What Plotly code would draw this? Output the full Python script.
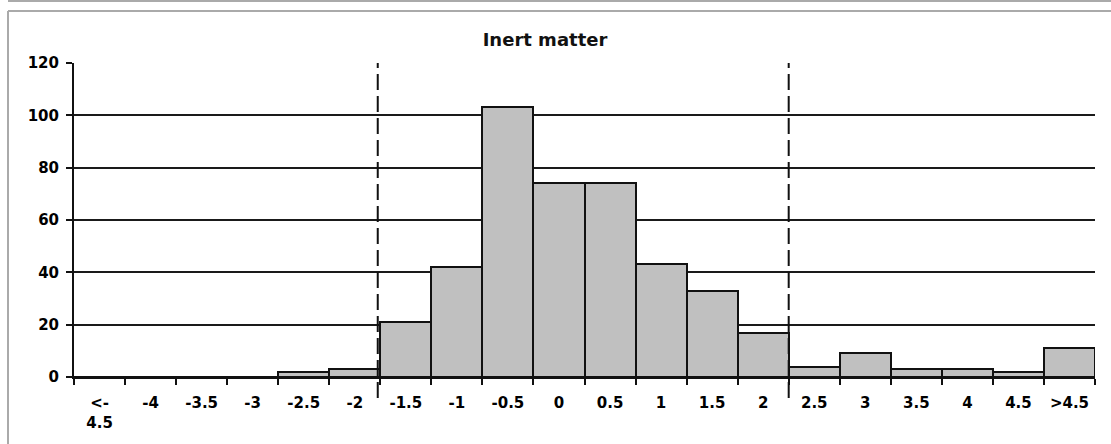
import plotly.graph_objects as go

# ---- data ----
categories = ["<-4.5", "-4", "-3.5", "-3", "-2.5", "-2", "-1.5", "-1", "-0.5", "0",
              "0.5", "1", "1.5", "2", "2.5", "3", "3.5", "4", "4.5", ">4.5"]
tick_labels = ["&lt;-<br>4.5", "-4", "-3.5", "-3", "-2.5", "-2", "-1.5", "-1", "-0.5", "0",
               "0.5", "1", "1.5", "2", "2.5", "3", "3.5", "4", "4.5", "&gt;4.5"]
counts = [0, 0, 0, 0, 2, 3, 21, 42, 103, 74, 74, 43, 33, 17, 4, 9, 3, 3, 2, 11]
y_ticks = [0, 20, 40, 60, 80, 100, 120]
limit_lines = [5.45, 13.5]   # category-index positions of the -2 / +2 limits
title_text = "Inert matter"

# ---- layout geometry (pixels) ----
W, H = 1111, 444
L, R, T, B = 74, 1095, 63, 377

def px(xp):
    return (xp - L) / (R - L)

def py(yp):
    return (B - yp) / (B - T)

font_family = "DejaVu Sans"

fig = go.Figure()
fig.add_trace(go.Bar(
    x=categories, y=counts,
    marker=dict(color="#c0c0c0", line=dict(color="#111111", width=2)),
    width=1.0,
    showlegend=False,
))

shapes = []
# dashed limit lines
for xv in limit_lines:
    xpaper = (xv + 0.5) / len(categories)
    shapes.append(dict(type="line", xref="paper", yref="paper",
                       x0=xpaper, x1=xpaper, y0=py(398), y1=1,
                       line=dict(color="#111111", width=2, dash="16px,6px"),
                       layer="above"))
# frame lines
frame_col = "#aaaaaa"
shapes.append(dict(type="line", xref="paper", yref="paper",
                   x0=px(8), x1=px(W + 5), y0=py(1), y1=py(1),
                   line=dict(color=frame_col, width=2)))
shapes.append(dict(type="line", xref="paper", yref="paper",
                   x0=px(8), x1=px(W + 5), y0=py(11), y1=py(11),
                   line=dict(color=frame_col, width=2)))
shapes.append(dict(type="line", xref="paper", yref="paper",
                   x0=px(8), x1=px(8), y0=py(11), y1=py(H + 5),
                   line=dict(color=frame_col, width=2)))

fig.update_layout(
    width=W, height=H,
    margin=dict(l=L, r=W - R, t=T, b=H - B, pad=0),
    paper_bgcolor="white", plot_bgcolor="white",
    bargap=0,
    title=dict(text=title_text, x=px(545), xref="paper", xanchor="center",
               y=1 - 40 / H, yref="container", yanchor="middle",
               font=dict(family=font_family, size=18, color="#111111", weight="bold")),
    shapes=shapes,
    xaxis=dict(
        type="category",
        categoryorder="array", categoryarray=categories,
        tickmode="array", tickvals=categories, ticktext=tick_labels,
        tickson="boundaries",
        range=[-0.5, len(categories) - 0.5],
        showgrid=False, zeroline=False,
        showline=True, linecolor="#111111", linewidth=2,
        ticks="outside", ticklen=6, tickwidth=2, tickcolor="#111111",
        ticklabelstandoff=11,
        tickfont=dict(family=font_family, size=15, color="#000000", weight="bold"),
        tickangle=0,
    ),
    yaxis=dict(
        range=[0, 120],
        tickmode="array", tickvals=y_ticks,
        showgrid=True, gridcolor="#1a1a1a", gridwidth=2,
        zeroline=False,
        showline=True, linecolor="#111111", linewidth=2,
        ticks="outside", ticklen=6, tickwidth=2, tickcolor="#111111",
        ticklabelstandoff=4,
        tickfont=dict(family=font_family, size=15, color="#000000", weight="bold"),
    ),
)

fig.write_html("out.html", config={"displayModeBar": False},
               post_script="document.body.style.margin='0';")
